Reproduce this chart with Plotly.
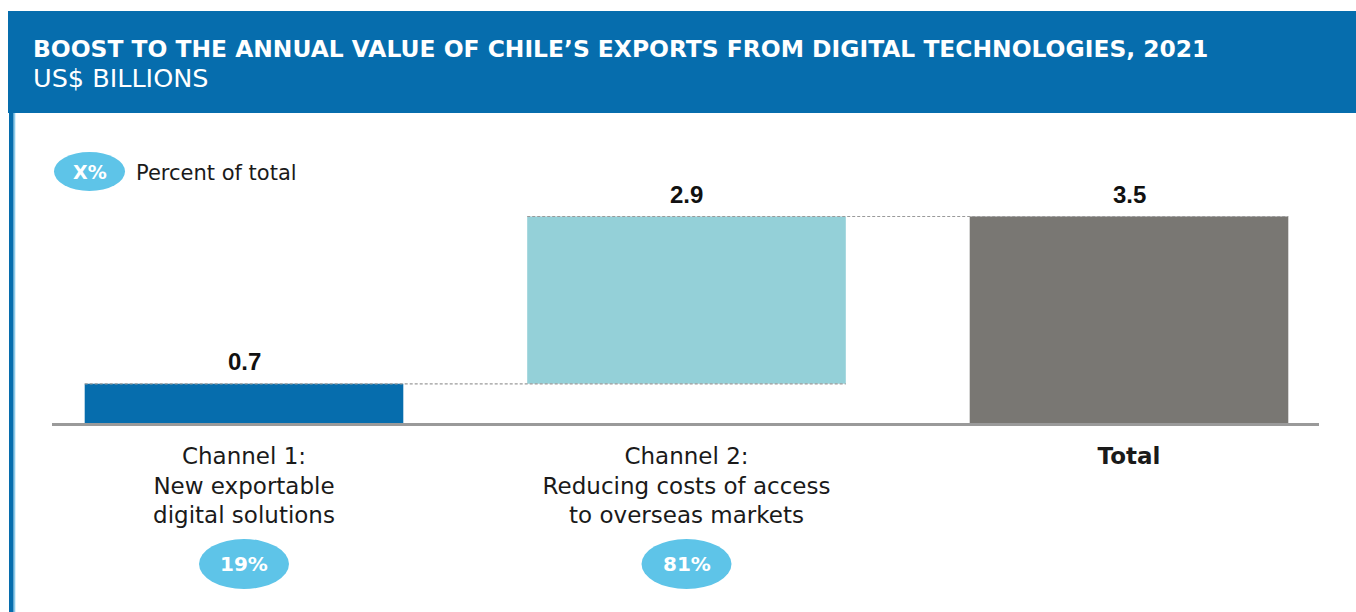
import plotly.graph_objects as go

# ---- data (US$ billions, 2021) ----
categories = [
    "Channel 1:<br>New exportable<br>digital solutions",
    "Channel 2:<br>Reducing costs of access<br>to overseas markets",
    "<b>Total</b>",
]
channel_values = [0.67, 2.86]
total_value = round(sum(channel_values), 2)

title_text = "BOOST TO THE ANNUAL VALUE OF CHILE\u2019S EXPORTS FROM DIGITAL TECHNOLOGIES, 2021"
subtitle_text = "US$ BILLIONS"
legend_badge = "X%"
legend_text = "Percent of total"

# ---- styling ----
W, H = 1356, 612
L, R, T, B = 52, 37, 160, 189
PW, PH = W - L - R, H - T - B

BLUE = "#066dad"
TEAL = "#94d0d8"
GREY = "#797773"
BADGE = "#5ec4e8"
INK = "#1a1a1a"
BODY_FONT = "DejaVu Sans"
NUM_FONT = "Liberation Sans"


def px(x):
    """page x pixel -> paper fraction"""
    return (x - L) / PW


def py(y):
    """page y pixel (from top) -> paper fraction"""
    return (H - B - y) / PH


xs = list(range(len(categories)))
bases = [0, channel_values[0], 0]
heights = [channel_values[0], channel_values[1], total_value]
tops = [b + h for b, h in zip(bases, heights)]
colors = [BLUE, TEAL, GREY]
BAR_W = 0.72

fig = go.Figure(
    go.Bar(
        x=xs,
        y=heights,
        base=bases,
        width=BAR_W,
        marker=dict(color=colors, line=dict(width=0)),
        hoverinfo="skip",
    )
)

shapes = []
annotations = []

# header band and left rule
shapes.append(dict(type="rect", xref="paper", yref="paper", x0=px(8), x1=px(1356),
                   y0=py(113), y1=py(11), fillcolor=BLUE, line=dict(width=0), layer="below"))
shapes.append(dict(type="rect", xref="paper", yref="paper", x0=px(9), x1=px(13.7),
                   y0=py(612), y1=py(113), fillcolor=BLUE, line=dict(width=0), layer="below"))
shapes.append(dict(type="rect", xref="paper", yref="paper", x0=px(13.7), x1=px(15.3),
                   y0=py(612), y1=py(113), fillcolor="#8ccbea", line=dict(width=0), layer="below"))

annotations.append(dict(xref="paper", yref="paper", x=px(31), y=py(48.5), xanchor="left",
                        yanchor="middle", showarrow=False, text=f"<b>{title_text}</b>",
                        font=dict(family=BODY_FONT, size=23.4, color="white")))
annotations.append(dict(xref="paper", yref="paper", x=px(31), y=py(78), xanchor="left",
                        yanchor="middle", showarrow=False, text=subtitle_text,
                        font=dict(family=BODY_FONT, size=25.5, color="white")))

# dotted connectors between the steps of the bridge
for i in range(len(xs) - 1):
    level = tops[i]
    shapes.append(dict(type="line", xref="x", yref="y",
                       x0=xs[i] - BAR_W / 2, x1=xs[i + 1] + BAR_W / 2,
                       y0=level, y1=level, layer="above",
                       line=dict(color="#9a9a9a", width=1.2, dash="3px,2px")))

# value labels above the bars
for i, v in enumerate(heights):
    annotations.append(dict(x=xs[i], y=tops[i], xref="x", yref="y", xanchor="center",
                            yanchor="middle", yshift=22, showarrow=False,
                            text=f"<b>{v:.1f}</b>",
                            font=dict(family=NUM_FONT, size=24, color="#111111")))

# share-of-total badges under the channels
for i, v in enumerate(channel_values):
    share = round(v / total_value * 100)
    shapes.append(dict(type="circle", xref="x", yref="paper", xsizemode="pixel",
                       ysizemode="pixel", xanchor=xs[i], yanchor=py(564),
                       x0=-45, x1=45, y0=-25, y1=25, fillcolor=BADGE,
                       line=dict(width=0), layer="above"))
    annotations.append(dict(x=xs[i], y=py(564), xref="x", yref="paper", xanchor="center",
                            yanchor="middle", showarrow=False, text=f"<b>{share}%</b>",
                            font=dict(family=BODY_FONT, size=20, color="white")))

# key
shapes.append(dict(type="circle", xref="paper", yref="paper", x0=px(54), x1=px(125),
                   y0=py(191), y1=py(152), fillcolor=BADGE, line=dict(width=0)))
annotations.append(dict(xref="paper", yref="paper", x=px(89.5), y=py(171.5), showarrow=False,
                        text=f"<b>{legend_badge}</b>", xanchor="center", yanchor="middle",
                        font=dict(family=BODY_FONT, size=19, color="white")))
annotations.append(dict(xref="paper", yref="paper", x=px(134), y=py(173), xanchor="left",
                        yanchor="middle", showarrow=False, text=legend_text,
                        font=dict(family=BODY_FONT, size=21, color=INK)))

x_lo = -(244 - L) / 442.5
x_hi = x_lo + PW / 442.5

fig.update_layout(
    width=W, height=H,
    margin=dict(l=L, r=R, t=T, b=B),
    paper_bgcolor="white", plot_bgcolor="white",
    showlegend=False,
    shapes=shapes, annotations=annotations,
    xaxis=dict(range=[x_lo, x_hi], tickvals=xs, ticktext=categories,
               showgrid=False, zeroline=False, showline=True, linecolor="#9a9a9a",
               linewidth=3, ticks="", ticklabelstandoff=10,
               tickfont=dict(family=BODY_FONT, size=23, color=INK),
               fixedrange=True),
    yaxis=dict(range=[0, PH / 58.5], visible=False, fixedrange=True),
)

fig.write_html("out.html", config={"displayModeBar": False})
